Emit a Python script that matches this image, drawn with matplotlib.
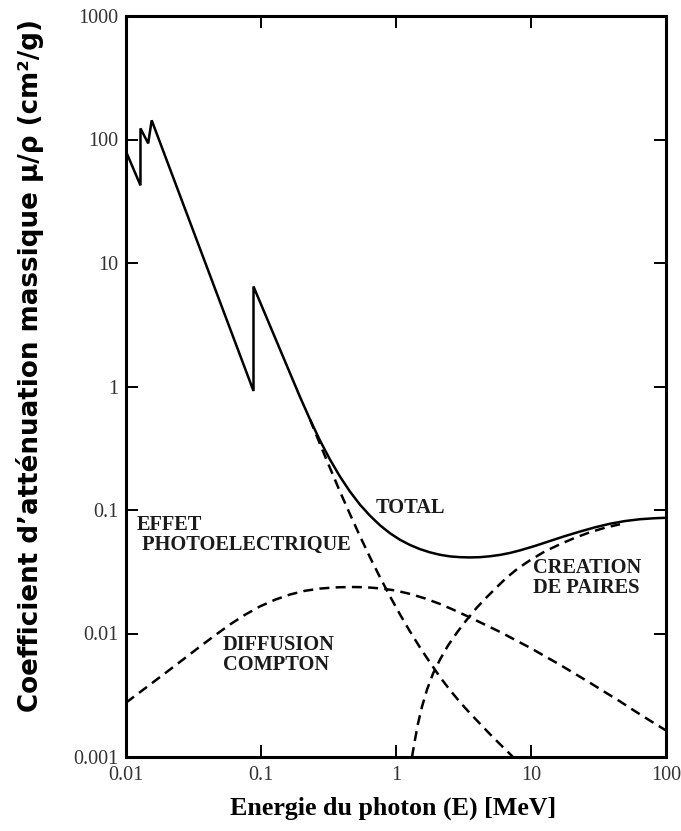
import matplotlib.pyplot as plt

# energies in MeV, mass attenuation coefficients in cm2/g
total_E = [0.01, 0.0128, 0.0128, 0.0146, 0.0155, 0.088, 0.088, 0.1945, 0.2307, 0.2735,
           0.3245, 0.3848, 0.4564, 0.5412, 0.642, 0.7613, 0.9028, 1.071, 1.27, 1.506,
           1.786, 2.118, 2.512, 2.979, 3.533, 4.19, 4.969, 5.893, 6.989, 8.289,
           10.71, 13.82, 17.86, 23.07, 29.79, 38.48, 49.69, 64.19, 82.89, 100]
total_mu = [80, 42.5, 123, 93, 143, 0.92, 6.45, 0.8234, 0.5408, 0.3652,
            0.2561, 0.1863, 0.1408, 0.1104, 0.0899, 0.0752, 0.0648, 0.0574, 0.0521, 0.0482,
            0.0454, 0.0434, 0.0421, 0.0415, 0.0413, 0.0415, 0.0422, 0.0433, 0.0449, 0.0471,
            0.0512, 0.0561, 0.0615, 0.0669, 0.0724, 0.0774, 0.0814, 0.0842, 0.0858, 0.0865]

photo_E = [0.2307, 0.2735, 0.3245, 0.3848, 0.4564, 0.5412, 0.642, 0.7613, 0.9028, 1.071,
           1.27, 1.506, 1.786, 2.118, 2.512, 2.979, 3.533, 4.19, 4.969, 5.893, 7.36]
photo_mu = [0.5408, 0.342, 0.2185, 0.1408, 0.0924, 0.0613, 0.0414, 0.0285, 0.02, 0.01426,
            0.01038, 0.0077, 0.00582, 0.00444, 0.00348, 0.00278, 0.00226, 0.00186, 0.00153,
            0.00127, 0.001]

compton_E = [0.01, 0.0127, 0.0164, 0.02118, 0.02735, 0.03533, 0.04564, 0.05893, 0.07613,
             0.09831, 0.127, 0.164, 0.2118, 0.2735, 0.3533, 0.4564, 0.5893, 0.7613, 0.9831,
             1.27, 1.64, 2.118, 2.735, 3.533, 4.564, 5.893, 7.613, 9.831, 12.7, 16.4, 21.18,
             27.35, 35.33, 45.64, 58.93, 76.13, 100]
compton_mu = [0.002754, 0.003351, 0.004139, 0.005111, 0.006326, 0.007842, 0.009669, 0.01183,
              0.01418, 0.01657, 0.01877, 0.02069, 0.02217, 0.0231, 0.02362, 0.0238, 0.02371,
              0.02319, 0.02234, 0.02092, 0.01923, 0.01735, 0.01537, 0.01349, 0.01179, 0.0103,
              0.00889, 0.00767, 0.00654, 0.00558, 0.00472, 0.00399, 0.00335, 0.00282, 0.00235,
              0.00197, 0.00164]

pair_E = [1.314, 1.382, 1.455, 1.558, 1.697, 1.88, 2.118, 2.428, 2.83, 3.357, 3.981, 4.722,
          5.6, 6.64, 8.012, 9.831, 12.7, 16.4, 21.18, 27.35, 35.33, 45.64]
pair_mu = [0.001, 0.001379, 0.00186, 0.002556, 0.003512, 0.004735, 0.006152, 0.00799,
           0.01019, 0.01299, 0.01626, 0.01979, 0.02384, 0.02848, 0.0337, 0.03914, 0.0463,
           0.05279, 0.0596, 0.06604, 0.07185, 0.07667]

xticks = [0.01, 0.1, 1, 10, 100]
xticklabels = ["0.01", "0.1", "1", "10", "100"]
yticks = [0.001, 0.01, 0.1, 1, 10, 100, 1000]
yticklabels = ["0.001", "0.01", "0.1", "1", "10", "100", "1000"]

W, H = 681, 831
fig = plt.figure(figsize=(W / 100, H / 100), dpi=100)
ax = fig.add_axes([126 / W, 1 - 757 / H, (666 - 126) / W, (757 - 16) / H])

dash = (0, (4, 2.5))
ax.plot(total_E, total_mu, color="black", lw=1.8, solid_joinstyle="miter")
ax.plot(photo_E, photo_mu, color="black", lw=1.8, linestyle=dash)
ax.plot(compton_E, compton_mu, color="black", lw=1.8, linestyle=dash)
ax.plot(pair_E, pair_mu, color="black", lw=1.8, linestyle=dash)

ax.set_xscale("log")
ax.set_yscale("log")
ax.set_xlim(0.01, 100)
ax.set_ylim(0.001, 1000)
ax.set_xticks(xticks)
ax.set_xticklabels(xticklabels)
ax.set_yticks(yticks)
ax.set_yticklabels(yticklabels)
ax.minorticks_off()
ax.tick_params(which="major", direction="in", length=8.5, width=1.4,
               top=True, right=True, colors="black", labelcolor="#333333")
ax.tick_params(axis="y", pad=5.5)
ax.tick_params(axis="x", pad=6.5)
for lab in ax.get_xticklabels() + ax.get_yticklabels():
    lab.set_fontfamily("Liberation Serif")
    lab.set_fontsize(14.5)
for sp in ax.spines.values():
    sp.set_linewidth(2.2)

# curve labels (left edge, baseline of last line) in pixels
serif = dict(family="Liberation Serif", weight="bold", size=14.7, color="#1a1a1a",
             ha="left", va="baseline", linespacing=1.0)
for txt, px, py in [("EFFET\n PHOTOELECTRIQUE", 137, 550),
                    ("DIFFUSION\nCOMPTON", 223, 670),
                    ("CREATION\nDE PAIRES", 533, 593),
                    ("TOTAL", 376, 513)]:
    fig.text(px / W, 1 - py / H, txt, **serif)

fig.text(393 / W, 1 - 808 / H, "Energie du photon (E) [MeV]", family="Liberation Serif",
         weight="bold", size=18.7, ha="center", va="center")
fig.text(30 / W, 1 - 365 / H, "Coefficient d\u2019atténuation massique \u03bc/\u03c1 (cm\u00b2/g)",
         family="DejaVu Sans", weight="bold", size=18.8, rotation=90,
         ha="center", va="center")

fig.savefig("out.png", dpi=100)
